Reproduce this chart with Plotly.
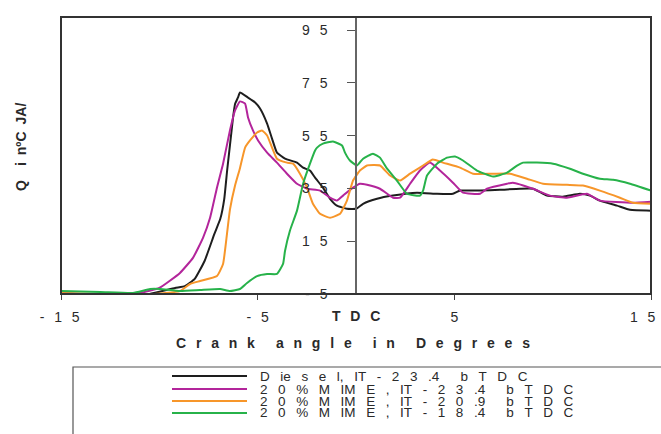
import plotly.graph_objects as go

# ---------------- data ----------------
series_names = ["D ie s e l, IT - 2 3 .4  b T D C",
                "2 0 % M IM E , IT - 2 3 .4  b T D C",
                "2 0 % M IM E , IT - 2 0 .9  b T D C",
                "2 0 % M IM E , IT - 1 8 .4  b T D C"]
series_colors = ["#1e1e1e", "#b3259b", "#f7962a", "#27b24a"]

diesel_x = [-15, -13.5, -11.5, -10.5, -9.2, -8.7, -8.2, -7.7, -7.2, -6.9, -6.7, -6.55, -6.4, -6.25,
            -6.15, -6.0, -5.9, -5.5, -5.13, -4.88, -4.52, -4.27, -4.02, -3.61, -3.0, -2.69, -2.34,
            -2.08, -1.68, -1.32, -0.97, -0.46, 0.0, 0.36, 1.07, 1.88, 3.10, 4.12, 4.93, 5.29, 6.30,
            7.32, 8.34, 9.0, 9.71, 10.52, 11.39, 11.9, 12.4, 13.27, 13.93, 15]
diesel_y = [-4.6, -5.4, -5.4, -5.0, -2.7, -2.0, 0.7, 7.5, 17.8, 23.5, 31, 42, 52, 62,
            67, 69.5, 71.4, 69.5, 67.6, 65.3, 59.6, 53.9, 48.6, 46.3, 44.8, 42.9, 41.8,
            39.1, 35.3, 31.1, 28.5, 27.3, 27.3, 29.2, 31.1, 32.3, 33.4, 33.0, 33.0, 34.2, 34.2,
            34.5, 34.9, 34.9, 32.3, 31.9, 33.0, 32.3, 30.4, 28.5, 26.9, 26.6]

mime234_x = [-15, -13, -12, -11, -10, -8.95, -8.29, -7.78, -7.42, -7.07, -6.76, -6.41, -6.15, -5.9,
             -5.64, -5.49, -5.24, -4.98, -4.52, -4.02, -3.51, -3.0, -2.49, -1.83, -1.32, -0.97,
             -0.66, -0.15, 0.2, 0.56, 1.22, 1.88, 2.24, 2.75, 3.25, 3.76, 4.27, 4.93, 5.44, 6.30,
             6.66, 7.68, 7.98, 9.0, 9.86, 10.73, 11.74, 12.4, 14.08, 15]
mime234_y = [-4.6, -5.4, -5.4, -4.6, -2.7, 3.0, 8.7, 16.3, 23.9, 35.3, 44.4, 57.0, 64.6, 68.0,
             67.2, 61.9, 57.0, 53.2, 48.6, 44.8, 40.6, 36.8, 34.9, 34.2, 31.5, 30.4,
             32.3, 35.3, 36.8, 36.4, 34.9, 31.5, 31.5, 36.8, 41.8, 44.8, 41.8, 37.2, 33.4, 33.0,
             34.9, 36.8, 37.2, 34.9, 32.3, 31.5, 33.0, 30.4, 29.6, 30.0]

mime209_x = [-15, -13, -11, -8.95, -8.44, -7.93, -7.07, -6.76, -6.56, -6.41, -6.15, -5.9, -5.64,
             -5.39, -5.03, -4.78, -4.52, -4.27, -4.02, -3.51, -3.2, -2.85, -2.49, -2.19, -1.83,
             -1.32, -0.81, -0.46, -0.15, 0.2, 0.56, 1.22, 1.73, 2.24, 2.75, 3.41, 3.91, 4.42, 5.29,
             5.95, 6.97, 7.83, 8.69, 9.51, 10.73, 11.54, 12.4, 13.42, 14.08, 15]
mime209_y = [-4.6, -5.0, -5.4, -3.9, -1.2, -0.1, 1.8, 6.4, 17.8, 27.0, 36.1, 42.7, 50.5,
             53.2, 56.2, 57.0, 55.1, 50.5, 46.3, 44.8, 44.4, 40.6, 35.3, 29.2, 25.4,
             23.9, 25.4, 30.4, 38.0, 41.8, 43.7, 43.7, 39.9, 38.0, 40.6, 43.7, 46.0, 44.8, 42.9,
             40.6, 40.6, 40.6, 38.7, 36.8, 36.4, 36.1, 34.2, 31.5, 29.6, 29.2]

mime184_x = [-15, -13, -11.34, -10.47, -9.96, -8.95, -7.93, -6.91, -6.41, -5.9, -5.54, -5.03,
             -4.52, -4.02, -3.71, -3.61, -3.36, -3.0, -2.69, -2.34, -2.08, -1.98, -1.68, -1.17,
             -0.71, -0.56, -0.31, 0.05, 0.36, 0.86, 1.22, 1.58, 2.08, 2.59, 3.25, 3.41, 3.61, 4.12,
             4.63, 5.03, 5.44, 6.15, 6.97, 7.68, 8.19, 8.49, 9.20, 10.02, 10.88, 11.54, 12.40,
             13.07, 13.93, 15]
mime184_y = [-3.9, -4.2, -4.6, -3.1, -3.1, -3.9, -3.5, -3.1, -3.9, -3.1, -0.8, 1.8,
             2.6, 2.6, 6.4, 11.3, 19.0, 26.6, 36.8, 44.4, 49.4, 50.5, 52.0, 52.8,
             51.3, 48.6, 45.6, 43.7, 46.3, 48.2, 46.7, 42.5, 38.0, 33.0, 32.3, 34.2, 39.9, 44.4,
             46.7, 47.1, 45.6, 41.8, 39.5, 41.0, 43.7, 44.8, 44.8, 44.4, 42.5, 40.6, 38.7,
             38.3, 36.8, 34.2]

x_tick_vals = [-15, -5, 5, 15]
x_tick_text = ["- 1 5", "- 5", "5", "1 5"]
tdc_label = "T D C"
y_tick_vals = [-5, 15, 35, 55, 75, 95]
y_tick_text = ["- 5", "1 5", "3 5", "5 5", "7 5", "9 5"]
x_title = "C r a n k   a n g l e   i n   D e g r e e s"
y_title = "Q  i n\u00baC JA/"

# ---------------- helpers ----------------
GAP = "\u2002\u2009"


def spaced(s, gap=GAP):
    return s.replace(" ", gap)


W, H = 661, 434
ML, MR, MT, MB = 61, 10, 17, 140
PW, PH = W - ML - MR, H - MT - MB


def px(xp):
    return (xp - ML) / PW


def py(yp):
    return (H - MB - yp) / PH


FONT = "Liberation Sans, Arial, sans-serif"
TXT = "#2a2a2a"

xs = [diesel_x, mime234_x, mime209_x, mime184_x]
ys = [diesel_y, mime234_y, mime209_y, mime184_y]

fig = go.Figure()
for name, col, x, y in zip(series_names, series_colors, xs, ys):
    fig.add_trace(go.Scatter(x=x, y=y, mode="lines", name=name,
                             line=dict(color=col, width=2, shape="spline", smoothing=0.4),
                             showlegend=False))

# x tick texts: the last one is padded so it stays inside the picture like the reference
x_tt = [spaced(t) for t in x_tick_text]
x_tt[-1] = x_tt[-1] + "\u2003\u2009"
x_tt[0] = x_tt[0] + "\u2009"

fig.update_layout(
    width=W, height=H,
    margin=dict(l=ML, r=MR, t=MT, b=MB, autoexpand=False),
    paper_bgcolor="white", plot_bgcolor="white",
    font=dict(family=FONT, color=TXT, size=14),
    xaxis=dict(range=[-15, 15], tickvals=x_tick_vals, ticktext=x_tt,
               ticks="outside", ticklen=5, tickcolor="#444", showgrid=False, zeroline=False,
               showline=False, tickfont=dict(size=14, color=TXT), ticklabelstandoff=5,
               ticklabeloverflow="allow", automargin=False),
    yaxis=dict(range=[-5, 100], tickvals=y_tick_vals, ticktext=[spaced(t) for t in y_tick_text],
               anchor="free", position=0.5, side="left",
               ticks="outside", ticklen=8, tickcolor="#555", showgrid=False, zeroline=False,
               showline=True, linecolor="#666", linewidth=1.5,
               tickfont=dict(size=14, color=TXT), ticklabelstandoff=17,
               ticklabeloverflow="allow", automargin=False),
)

# plot frame
fig.add_shape(type="rect", xref="paper", yref="paper", x0=0, x1=1, y0=0, y1=1,
              line=dict(color="#333", width=2), layer="above")

# TDC label at x = 0
fig.add_annotation(x=0, xref="x", y=py(316), yref="paper", text="<b>" + spaced(tdc_label) + "</b>",
                   showarrow=False, font=dict(size=14, color=TXT), xanchor="center", yanchor="middle")
# axis titles
fig.add_annotation(x=px(353), y=py(343), xref="paper", yref="paper",
                   text="<b>" + x_title.replace("   ", "\u2003\u2002").replace(" ", GAP) + "</b>",
                   showarrow=False, font=dict(size=14, color=TXT), xanchor="center", yanchor="middle")
fig.add_annotation(x=px(21), y=py(147), xref="paper", yref="paper",
                   text="<b>" + y_title.replace("  ", "\u2003").replace(" ", "\u2002") + "</b>",
                   textangle=-90,
                   showarrow=False, font=dict(size=14, color=TXT), xanchor="center", yanchor="middle")

# manual legend (box extends beyond the picture edge like the reference)
fig.add_shape(type="rect", xref="paper", yref="paper", x0=px(73), x1=px(700), y0=py(470), y1=py(367),
              line=dict(color="#555", width=1.2))
row_y = [376, 389, 401, 413]
for name, col, ry in zip(series_names, series_colors, row_y):
    fig.add_shape(type="line", xref="paper", yref="paper", x0=px(172), x1=px(247), y0=py(ry), y1=py(ry),
                  line=dict(color=col, width=2))
    fig.add_annotation(x=px(258), y=py(ry), xref="paper", yref="paper",
                       text=spaced(name, "\u2002\u2009\u200a"),
                       showarrow=False, font=dict(size=13.5, color=TXT), xanchor="left", yanchor="middle")

fig.write_html("out.html")
